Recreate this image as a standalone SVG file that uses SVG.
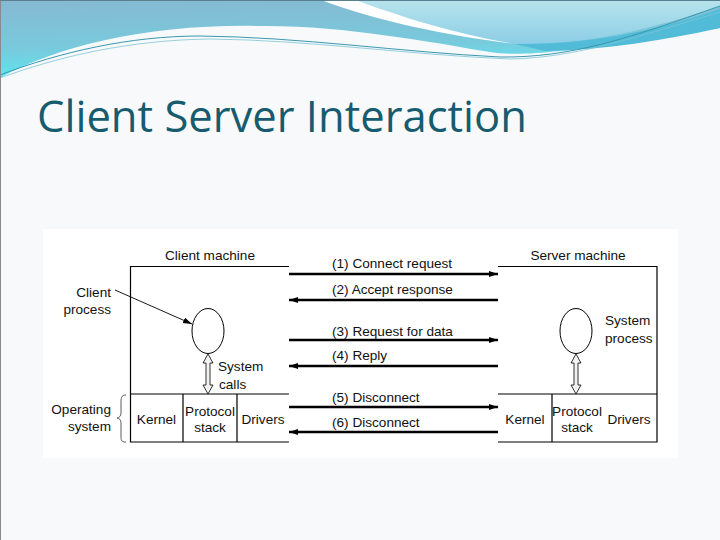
<svg xmlns="http://www.w3.org/2000/svg" width="720" height="540" viewBox="0 0 720 540">
<defs>
<linearGradient id="gL" x1="0" y1="0" x2="0.15" y2="1">
<stop offset="0" stop-color="#86b9d2"/>
<stop offset="0.6" stop-color="#79c9dc"/>
<stop offset="1" stop-color="#5ee6f0"/>
</linearGradient>
<linearGradient id="gR" x1="0" y1="0" x2="0" y2="1">
<stop offset="0" stop-color="#b7e4ec"/>
<stop offset="1" stop-color="#8ccde6"/>
</linearGradient>
<marker id="ah" markerUnits="userSpaceOnUse" markerWidth="10" markerHeight="8" refX="9" refY="3.5" orient="auto">
<path d="M0,0.5 L9,3.5 L0,6.5 Z" fill="#000"/>
</marker>
<marker id="ahs" markerUnits="userSpaceOnUse" markerWidth="10" markerHeight="8" refX="9" refY="3" orient="auto">
<path d="M0,0 L9,3 L0,6 Z" fill="#000"/>
</marker>
</defs>
<style>
.t{font-family:"Liberation Sans",Arial,sans-serif;font-size:13.6px;fill:#111}
.m{text-anchor:middle}
.e{text-anchor:end}
.box{fill:none;stroke:#000;stroke-width:1.2}
.msg{stroke:#000;stroke-width:2.6;fill:none;marker-end:url(#ah)}
.dbl{fill:#f2f2f2;stroke:#000;stroke-width:0.8}
</style>
<rect x="0" y="0" width="720" height="540" fill="#f8f9fb"/>
<!-- header decoration -->
<path d="M0,0 H720 V28 C680,34 620,46 560,51 C530,54 510,55 490,52 C430,42 340,25 260,26 C150,24 60,45 0,78 Z" fill="url(#gL)"/>
<path d="M356,0 H720 V6 C650,30 585,45 515,44 C470,36 420,24 356,0 Z" fill="url(#gR)"/>
<path d="M515,44 C600,45 670,26 720,9 V28 C665,40 605,50 545,51 Z" fill="#52bcd8"/>
<path d="M321,0 L356,0 C420,24 470,36 515,44 C450,36 380,22 321,0 Z" fill="#ffffff"/>
<path d="M0,75 C60,52 130,36 200,36 C300,37 400,52 500,57 C570,58 630,38 720,6" fill="none" stroke="#3a98b0" stroke-width="1"/>
<path d="M0,78 C60,56 130,40 210,39 C310,40 410,55 510,59 C575,58 640,36 720,12" fill="none" stroke="#7cc4d4" stroke-width="0.8"/>
<line x1="0.5" y1="0" x2="0.5" y2="540" stroke="#8a8a8a" stroke-width="1"/>
<line x1="0" y1="0.5" x2="720" y2="0.5" stroke="#5a7f90" stroke-width="1"/>
<text x="37" y="132" font-family="'Open Sans','Noto Sans',sans-serif" font-size="44" fill="#175c6e" textLength="490" lengthAdjust="spacingAndGlyphs">Client Server Interaction</text>
<!-- diagram background -->
<rect x="43" y="229" width="635" height="229" fill="#ffffff"/>
<g id="client-machine">
<path class="box" d="M289,266.5 H130.5 V442 H289 M130.5,394 H289 M183,394 V442 M237,394 V442"/>
<text class="t m" x="210" y="260">Client machine</text>
<text class="t m" x="156.5" y="424">Kernel</text>
<text class="t m" x="210" y="416">Protocol</text>
<text class="t m" x="210" y="432">stack</text>
<text class="t m" x="263" y="424">Drivers</text>
</g>
<g id="client-process">
<ellipse cx="208" cy="331" rx="16" ry="22.5" fill="none" stroke="#000" stroke-width="1"/>
<text class="t e" x="111" y="297">Client</text>
<text class="t e" x="111" y="314">process</text>
</g>
<g id="client-os">
<path d="M126,395 C121,395 121,398 121,404 L121,413 C121,416 119,418 117,418 C119,418 121,420 121,423 L121,436 C121,440 121,442 126,442" fill="none" stroke="#333" stroke-width="0.8"/>
<text class="t e" x="111" y="414">Operating</text>
<text class="t e" x="111" y="431">system</text>
</g>
<g id="server-machine">
<path class="box" d="M498,266.5 H657 V442 H498 M498,394 H657 M552,394 V442"/>
<text class="t m" x="578" y="260">Server machine</text>
<text class="t m" x="525" y="424">Kernel</text>
<text class="t m" x="577" y="416">Protocol</text>
<text class="t m" x="577" y="432">stack</text>
<text class="t m" x="629" y="424">Drivers</text>
</g>
<g id="server-process">
<ellipse cx="576" cy="331" rx="16" ry="22.5" fill="none" stroke="#000" stroke-width="1"/>
<text class="t" x="605" y="325">System</text>
<text class="t" x="605" y="343">process</text>
</g>
<g id="connectors">
<line x1="115" y1="290" x2="192" y2="324" stroke="#000" stroke-width="0.9" marker-end="url(#ahs)"/>
<polygon class="dbl" points="208,354 213,363 210,363 210,385 213,385 208,394 203,385 206,385 206,363 203,363"/>
<text class="t" x="218" y="371">System</text>
<text class="t" x="219" y="389">calls</text>
<polygon class="dbl" points="576,354 581,363 578,363 578,385 581,385 576,394 571,385 574,385 574,363 571,363"/>
<line class="msg" x1="289" y1="274" x2="498" y2="274"/>
<line class="msg" x1="498" y1="300" x2="289" y2="300"/>
<line class="msg" x1="289" y1="340" x2="498" y2="340"/>
<line class="msg" x1="498" y1="366" x2="289" y2="366"/>
<line class="msg" x1="289" y1="407" x2="498" y2="407"/>
<line class="msg" x1="498" y1="432" x2="289" y2="432"/>
<text class="t" x="332" y="268">(1) Connect request</text>
<text class="t" x="332" y="294">(2) Accept response</text>
<text class="t" x="332" y="336">(3) Request for data</text>
<text class="t" x="332" y="360">(4) Reply</text>
<text class="t" x="332" y="402">(5) Disconnect</text>
<text class="t" x="332" y="427">(6) Disconnect</text>
</g>
</svg>
